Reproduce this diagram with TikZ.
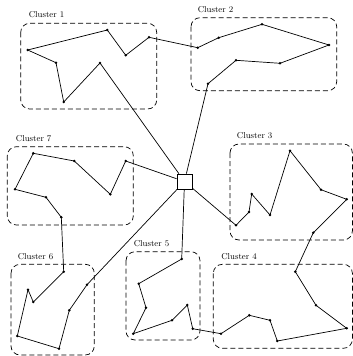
\documentclass[tikz,border=0pt]{standalone}
\begin{document}
\begin{tikzpicture}[x=1pt,y=-1pt,
  dot/.style={circle,fill=black,inner sep=0pt,minimum size=2.8pt},
  cbox/.style={draw,dashed,dash pattern=on 5pt off 3pt,rounded corners=9pt,line width=0.7pt},
  clabel/.style={font=\fontsize{8.6}{10}\selectfont,inner sep=0pt},
  tour/.style={line width=0.7pt},
  hubbox/.style={draw,fill=white,line width=0.7pt,minimum size=15pt,inner sep=0pt}]
\useasboundingbox (0,0) rectangle (353,356);
% cluster boxes
\draw[cbox] (20.7,23.3) rectangle (156.7,109);
\draw[cbox] (191,17.7) rectangle (336.7,90.7);
\draw[cbox] (7.3,146.7) rectangle (133.3,225);
\draw[cbox] (230,144) rectangle (352.4,240);
\draw[cbox] (11,264.3) rectangle (94.3,355);
\draw[cbox] (126,251.7) rectangle (200,340);
\draw[cbox] (213.3,264.3) rectangle (352.4,348.3);
% labels
\node[clabel] (l1) at (46.5,15) {Cluster 1};
\node[clabel] (l2) at (215.5,10) {Cluster 2};
\node[clabel] (l7) at (33.7,138.3) {Cluster 7};
\node[clabel] (l3) at (254.7,136) {Cluster 3};
\node[clabel] (l6) at (35.5,256.7) {Cluster 6};
\node[clabel] (l5) at (151.5,244) {Cluster 5};
\node[clabel] (l4) at (239,256.7) {Cluster 4};
% hub
\node[hubbox] (hub) at (184.5,181.5) {};
% cluster 1
\node[dot] (a) at (27.7,50) {};
\node[dot] (b) at (107.3,30) {};
\node[dot] (c) at (125.7,55.3) {};
\node[dot] (d) at (149,37.3) {};
\node[dot] (e) at (56,62.7) {};
\node[dot] (f) at (63.7,102) {};
\node[dot] (g) at (100,63) {};
% cluster 2
\node[dot] (h) at (197.7,47.7) {};
\node[dot] (i) at (218.7,37.7) {};
\node[dot] (j) at (262,24.3) {};
\node[dot] (k) at (329,45) {};
\node[dot] (l) at (280,63.3) {};
\node[dot] (m) at (236,60.3) {};
\node[dot] (n) at (208,83.7) {};
% cluster 7
\node[dot] (p1) at (125.7,161) {};
\node[dot] (p2) at (110.3,194.3) {};
\node[dot] (p3) at (74.3,161) {};
\node[dot] (p4) at (33.3,153.3) {};
\node[dot] (p5) at (15,189.3) {};
\node[dot] (p6) at (46,197.3) {};
\node[dot] (p7) at (61.3,217.3) {};
% cluster 6
\node[dot] (q1) at (63.7,271.7) {};
\node[dot] (q2) at (33.3,302) {};
\node[dot] (q3) at (28,289.7) {};
\node[dot] (q4) at (17.3,336) {};
\node[dot] (q5) at (59,348.7) {};
\node[dot] (q6) at (69.3,310.3) {};
\node[dot] (q7) at (87,284.7) {};
% cluster 5
\node[dot] (r1) at (181.7,259) {};
\node[dot] (r2) at (138.7,283.7) {};
\node[dot] (r3) at (146,307.7) {};
\node[dot] (r4) at (133.3,333.7) {};
\node[dot] (r5) at (172,320.3) {};
\node[dot] (r6) at (187.3,305) {};
\node[dot] (r7) at (192.7,328.7) {};
% cluster 4
\node[dot] (s1) at (221,333.7) {};
\node[dot] (s2) at (249.3,315.3) {};
\node[dot] (s3) at (270,320.3) {};
\node[dot] (s4) at (277.3,341) {};
\node[dot] (s5) at (346.7,328.3) {};
\node[dot] (s6) at (316,305.3) {};
\node[dot] (s7) at (295.3,271.7) {};
% cluster 3
\node[dot] (t1) at (236,225.3) {};
\node[dot] (t2) at (249,212) {};
\node[dot] (t3) at (251.7,194) {};
\node[dot] (t4) at (270,215) {};
\node[dot] (t5) at (290,150.7) {};
\node[dot] (t6) at (321,189.7) {};
\node[dot] (t7) at (346.7,199.3) {};
\node[dot] (t8) at (313.3,232.7) {};
% tours
\draw[tour] (hub) -- (g.center) -- (f.center) -- (e.center) -- (a.center) -- (b.center) -- (c.center) -- (d.center)
  -- (h.center) -- (i.center) -- (j.center) -- (k.center) -- (l.center) -- (m.center) -- (n.center) -- (hub);
\draw[tour] (hub) -- (p1.center) -- (p2.center) -- (p3.center) -- (p4.center) -- (p5.center) -- (p6.center) -- (p7.center)
  -- (q1.center) -- (q2.center) -- (q3.center) -- (q4.center) -- (q5.center) -- (q6.center) -- (q7.center) -- (hub);
\draw[tour] (hub) -- (r1.center) -- (r2.center) -- (r3.center) -- (r4.center) -- (r5.center) -- (r6.center) -- (r7.center)
  -- (s1.center) -- (s2.center) -- (s3.center) -- (s4.center) -- (s5.center) -- (s6.center) -- (s7.center)
  -- (t8.center) -- (t7.center) -- (t6.center) -- (t5.center) -- (t4.center) -- (t3.center) -- (t2.center) -- (t1.center) -- (hub);
\end{tikzpicture}
\end{document}
